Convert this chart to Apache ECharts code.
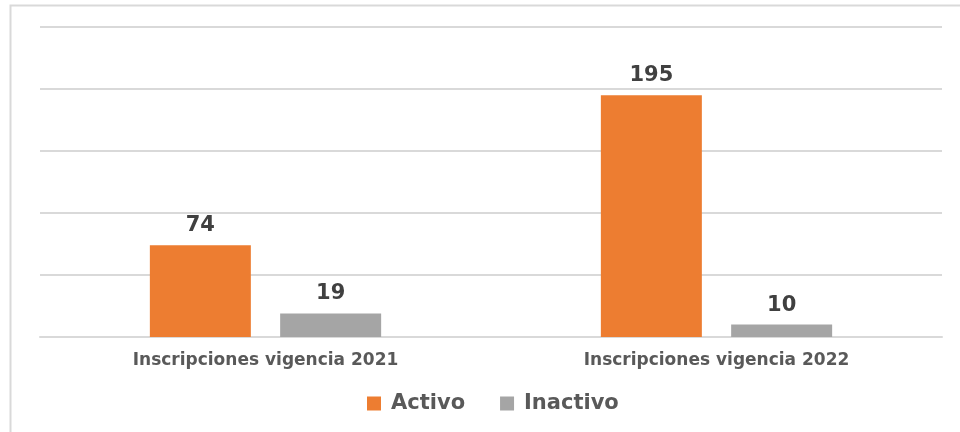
<!DOCTYPE html>
<html>
<head>
<meta charset="utf-8">
<script src="https://cdn.jsdelivr.net/npm/echarts@6/dist/echarts.min.js"></script>
<style>
  html, body { margin: 0; padding: 0; background: #fff; }
  #chart { width: 960px; height: 432px; }
</style>
</head>
<body>
<div id="chart"></div>
<script>
// datos
const categorias = ['Inscripciones vigencia 2021', 'Inscripciones vigencia 2022']
const activo = [74, 195]
const inactivo = [19, 10]

const chart = echarts.init(document.getElementById('chart'))

const etiqueta = {
  show: true,
  position: 'top',
  distance: 9,
  fontFamily: 'DejaVu Sans',
  fontWeight: 'bold',
  fontSize: 21,
  color: '#404040'
}

chart.setOption({
  animation: false,
  // marco gris del área del gráfico
  graphic: [{
    type: 'rect',
    shape: { x: 10.5, y: 5.5, width: 980, height: 460 },
    style: { fill: 'none', stroke: '#d9d9d9', lineWidth: 2 },
    silent: true
  }],
  legend: {
    data: ['Activo', 'Inactivo'],
    bottom: 13,
    left: 362,
    itemWidth: 14,
    itemHeight: 14,
    itemGap: 35,
    icon: 'rect',
    textStyle: { fontFamily: 'DejaVu Sans', fontWeight: 'bold', fontSize: 21, color: '#595959', padding: [0, 0, 0, 5] }
  },
  grid: { left: 40, right: 18, top: 27, bottom: 95 },
  xAxis: {
    type: 'category',
    data: categorias,
    axisLine: { lineStyle: { color: '#d9d9d9', width: 2 } },
    axisTick: { show: false },
    axisLabel: {
      margin: 15,
      fontFamily: 'DejaVu Sans',
      fontWeight: 'bold',
      fontSize: 17,
      color: '#595959'
    }
  },
  yAxis: {
    type: 'value',
    min: 0,
    max: 250,
    interval: 50,
    axisLabel: { show: false },
    axisLine: { show: false },
    axisTick: { show: false },
    splitLine: { lineStyle: { color: '#d9d9d9', width: 2 } }
  },
  series: [
    {
      name: 'Activo',
      type: 'bar',
      data: activo,
      barWidth: 101,
      barGap: '29%',
      itemStyle: { color: '#ed7d31' },
      label: etiqueta
    },
    {
      name: 'Inactivo',
      type: 'bar',
      data: inactivo,
      barWidth: 101,
      itemStyle: { color: '#a5a5a5' },
      label: etiqueta
    }
  ]
})
</script>
</body>
</html>
